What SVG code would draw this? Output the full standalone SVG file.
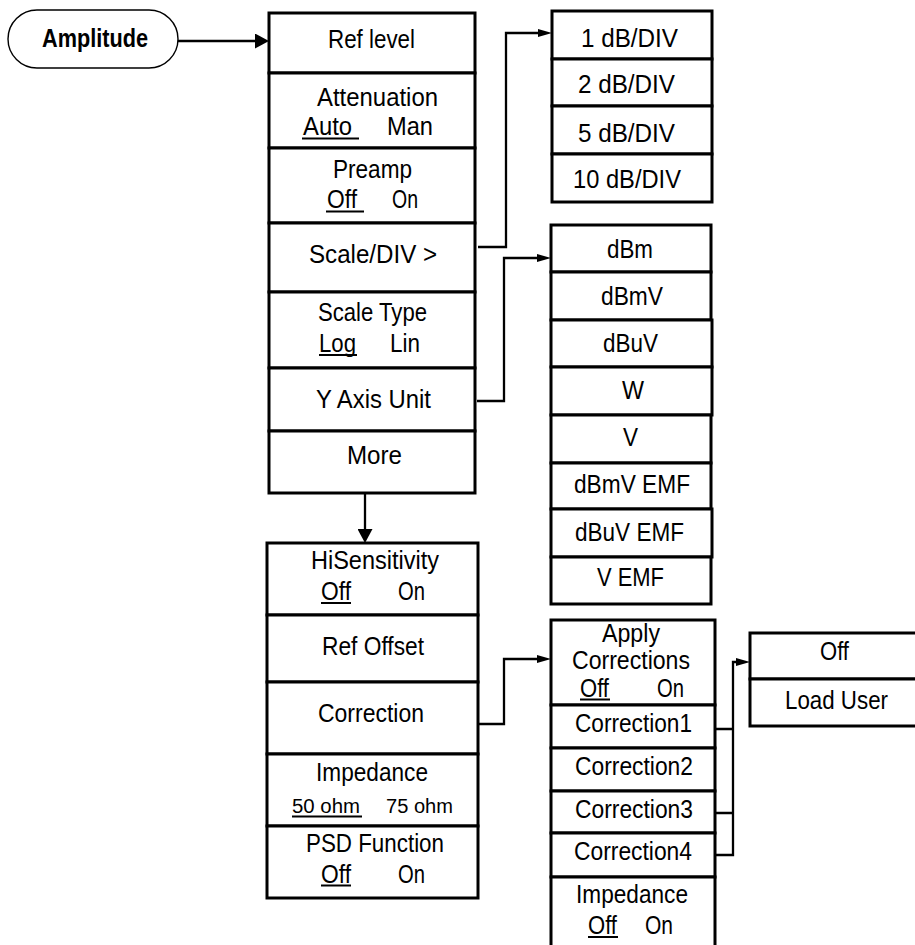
<svg xmlns="http://www.w3.org/2000/svg" width="915" height="945" viewBox="0 0 915 945">
<style>
.cell{fill:#fff;stroke:#000;stroke-width:3}
.t{font-family:"Liberation Sans",Arial,sans-serif;font-size:26px;fill:#000}
.s{font-size:20px}
.a{font-size:25px}
.b{font-weight:bold;font-size:26px}
.u{stroke:#000;stroke-width:2}
.c{fill:none;stroke:#000;stroke-width:2.3}
</style>
<defs>
<marker id="ar" markerUnits="userSpaceOnUse" viewBox="0 0 14 8" refX="1" refY="4" markerWidth="14" markerHeight="8" orient="auto"><path d="M0,0 L14,4 L0,8 z" fill="#000"/></marker>
<marker id="arB" markerUnits="userSpaceOnUse" viewBox="0 0 14 15" refX="1" refY="7.5" markerWidth="14" markerHeight="15" orient="auto"><path d="M0,0 L14,7.5 L0,15 z" fill="#000"/></marker>
</defs>
<rect width="915" height="945" fill="#fff"/>

<g id="amplitude">
<rect x="8" y="10" width="170" height="58" rx="29" ry="29" fill="#fff" stroke="#000" stroke-width="1.4"/>
<text class="t b" x="42" y="47" textLength="106" lengthAdjust="spacingAndGlyphs">Amplitude</text>
</g>

<g id="menu-main">
<g id="ref-level"><rect class="cell" x="269" y="13" width="206" height="60"/><text class="t" x="328" y="48" textLength="87" lengthAdjust="spacingAndGlyphs">Ref level</text></g>
<g id="attenuation"><rect class="cell" x="269" y="73" width="206" height="75"/><text class="t" x="317" y="106" textLength="121" lengthAdjust="spacingAndGlyphs">Attenuation</text><text class="t" x="303" y="135" textLength="49" lengthAdjust="spacingAndGlyphs">Auto</text><text class="t" x="387" y="135" textLength="46" lengthAdjust="spacingAndGlyphs">Man</text><line class="u" x1="302" y1="138.5" x2="359" y2="138.5"/></g>
<g id="preamp"><rect class="cell" x="269" y="148" width="206" height="75"/><text class="t" x="333" y="178" textLength="79" lengthAdjust="spacingAndGlyphs">Preamp</text><text class="t" x="327" y="208" textLength="30" lengthAdjust="spacingAndGlyphs">Off</text><text class="t" x="392" y="208" textLength="26" lengthAdjust="spacingAndGlyphs">On</text><line class="u" x1="326" y1="211.5" x2="364" y2="211.5"/></g>
<g id="scale-div"><rect class="cell" x="269" y="223" width="206" height="69"/><text class="t" x="309" y="263" textLength="128" lengthAdjust="spacingAndGlyphs">Scale/DIV &gt;</text></g>
<g id="scale-type"><rect class="cell" x="269" y="292" width="206" height="76"/><text class="t" x="318" y="321" textLength="109" lengthAdjust="spacingAndGlyphs">Scale Type</text><text class="t" x="319" y="352" textLength="37" lengthAdjust="spacingAndGlyphs">Log</text><text class="t" x="390" y="352" textLength="30" lengthAdjust="spacingAndGlyphs">Lin</text><line class="u" x1="319" y1="355" x2="357" y2="355"/></g>
<g id="y-axis-unit"><rect class="cell" x="269" y="368" width="206" height="63"/><text class="t" x="316" y="408" textLength="115" lengthAdjust="spacingAndGlyphs">Y Axis Unit</text></g>
<g id="more"><rect class="cell" x="269" y="431" width="206" height="62"/><text class="t" x="347" y="464" textLength="55" lengthAdjust="spacingAndGlyphs">More</text></g>
</g>

<g id="menu-scale">
<g id="div1"><rect class="cell" x="552" y="11" width="160" height="48"/><text class="t" x="581" y="47" textLength="97" lengthAdjust="spacingAndGlyphs">1 dB/DIV</text></g>
<g id="div2"><rect class="cell" x="552" y="59" width="160" height="47"/><text class="t" x="578" y="93" textLength="97" lengthAdjust="spacingAndGlyphs">2 dB/DIV</text></g>
<g id="div5"><rect class="cell" x="552" y="106" width="160" height="48"/><text class="t" x="578" y="142" textLength="97" lengthAdjust="spacingAndGlyphs">5 dB/DIV</text></g>
<g id="div10"><rect class="cell" x="552" y="154" width="160" height="48"/><text class="t" x="573" y="188" textLength="108" lengthAdjust="spacingAndGlyphs">10 dB/DIV</text></g>
</g>

<g id="menu-unit">
<g id="u-dbm"><rect class="cell" x="551" y="225" width="160" height="47"/><text class="t" x="607" y="258" textLength="46" lengthAdjust="spacingAndGlyphs">dBm</text></g>
<g id="u-dbmv"><rect class="cell" x="551" y="272" width="160" height="48"/><text class="t" x="601" y="305" textLength="62" lengthAdjust="spacingAndGlyphs">dBmV</text></g>
<g id="u-dbuv"><rect class="cell" x="551" y="320" width="161" height="47"/><text class="t" x="603" y="352" textLength="55" lengthAdjust="spacingAndGlyphs">dBuV</text></g>
<g id="u-w"><rect class="cell" x="551" y="367" width="161" height="48"/><text class="t" x="622" y="399" textLength="22" lengthAdjust="spacingAndGlyphs">W</text></g>
<g id="u-v"><rect class="cell" x="551" y="415" width="160" height="48"/><text class="t" x="623" y="446" textLength="15" lengthAdjust="spacingAndGlyphs">V</text></g>
<g id="u-dbmvemf"><rect class="cell" x="551" y="463" width="160" height="46"/><text class="t" x="574" y="493" textLength="116" lengthAdjust="spacingAndGlyphs">dBmV EMF</text></g>
<g id="u-dbuvemf"><rect class="cell" x="551" y="509" width="161" height="48"/><text class="t" x="575" y="541" textLength="109" lengthAdjust="spacingAndGlyphs">dBuV EMF</text></g>
<g id="u-vemf"><rect class="cell" x="551" y="557" width="160" height="47"/><text class="t" x="597" y="586" textLength="67" lengthAdjust="spacingAndGlyphs">V EMF</text></g>
</g>

<g id="menu-more">
<g id="hisens"><rect class="cell" x="267" y="543" width="211" height="72"/><text class="t" x="311" y="569" textLength="128" lengthAdjust="spacingAndGlyphs">HiSensitivity</text><text class="t" x="321" y="600" textLength="30" lengthAdjust="spacingAndGlyphs">Off</text><text class="t" x="398" y="600" textLength="27" lengthAdjust="spacingAndGlyphs">On</text><line class="u" x1="321" y1="603" x2="351" y2="603"/></g>
<g id="ref-offset"><rect class="cell" x="267" y="615" width="211" height="67"/><text class="t" x="322" y="655" textLength="102" lengthAdjust="spacingAndGlyphs">Ref Offset</text></g>
<g id="correction"><rect class="cell" x="267" y="682" width="211" height="72"/><text class="t" x="318" y="722" textLength="106" lengthAdjust="spacingAndGlyphs">Correction</text></g>
<g id="impedance"><rect class="cell" x="267" y="754" width="211" height="72"/><text class="t" x="316" y="781" textLength="112" lengthAdjust="spacingAndGlyphs">Impedance</text><text class="t s" x="292" y="813" textLength="68" lengthAdjust="spacingAndGlyphs">50 ohm</text><text class="t s" x="386" y="813" textLength="67" lengthAdjust="spacingAndGlyphs">75 ohm</text><line class="u" x1="292" y1="816.5" x2="362" y2="816.5"/></g>
<g id="psd"><rect class="cell" x="267" y="826" width="211" height="72"/><text class="t" x="306" y="852" textLength="138" lengthAdjust="spacingAndGlyphs">PSD Function</text><text class="t" x="321" y="883" textLength="30" lengthAdjust="spacingAndGlyphs">Off</text><text class="t" x="398" y="883" textLength="27" lengthAdjust="spacingAndGlyphs">On</text><line class="u" x1="321" y1="885.5" x2="351" y2="885.5"/></g>
</g>

<g id="menu-correction">
<g id="apply"><rect class="cell" x="551" y="620" width="164" height="85"/><text class="t a" x="602" y="642" textLength="58" lengthAdjust="spacingAndGlyphs">Apply</text><text class="t a" x="572" y="669" textLength="118" lengthAdjust="spacingAndGlyphs">Corrections</text><text class="t" x="580" y="697" textLength="29" lengthAdjust="spacingAndGlyphs">Off</text><text class="t" x="657" y="697" textLength="27" lengthAdjust="spacingAndGlyphs">On</text><line class="u" x1="580" y1="699.5" x2="610" y2="699.5"/></g>
<g id="corr1"><rect class="cell" x="551" y="705" width="164" height="43"/><text class="t" x="575" y="732" textLength="117" lengthAdjust="spacingAndGlyphs">Correction1</text></g>
<g id="corr2"><rect class="cell" x="551" y="748" width="164" height="43"/><text class="t" x="575" y="775" textLength="118" lengthAdjust="spacingAndGlyphs">Correction2</text></g>
<g id="corr3"><rect class="cell" x="551" y="791" width="164" height="42"/><text class="t" x="575" y="818" textLength="118" lengthAdjust="spacingAndGlyphs">Correction3</text></g>
<g id="corr4"><rect class="cell" x="551" y="833" width="164" height="44"/><text class="t" x="574" y="860" textLength="118" lengthAdjust="spacingAndGlyphs">Correction4</text></g>
<g id="impedance2"><rect class="cell" x="551" y="877" width="164" height="80"/><text class="t" x="576" y="903" textLength="112" lengthAdjust="spacingAndGlyphs">Impedance</text><text class="t" x="588" y="934" textLength="29" lengthAdjust="spacingAndGlyphs">Off</text><text class="t" x="645" y="934" textLength="28" lengthAdjust="spacingAndGlyphs">On</text><line class="u" x1="588" y1="937" x2="618" y2="937"/></g>
</g>

<g id="menu-user">
<g id="user-off"><rect class="cell" x="750" y="633" width="180" height="46"/><text class="t" x="820" y="660" textLength="29" lengthAdjust="spacingAndGlyphs">Off</text></g>
<g id="load-user"><rect class="cell" x="750" y="679" width="180" height="47"/><text class="t" x="785" y="709" textLength="103" lengthAdjust="spacingAndGlyphs">Load User</text></g>
</g>

<g id="connectors">
<path class="c" d="M178,41 H256" marker-end="url(#arB)"/>
<path class="c" d="M478,247 H506 V33 H539" marker-end="url(#ar)"/>
<path class="c" d="M477,401 H504 V258 H538" marker-end="url(#ar)"/>
<path class="c" d="M365,493 V530" marker-end="url(#arB)"/>
<path class="c" d="M478,724 H504 V659 H538" marker-end="url(#ar)"/>
<path class="c" d="M715,729 H733 M715,813 H733 M715,855 H733 V662 H737" marker-end="url(#ar)"/>
</g>
</svg>
